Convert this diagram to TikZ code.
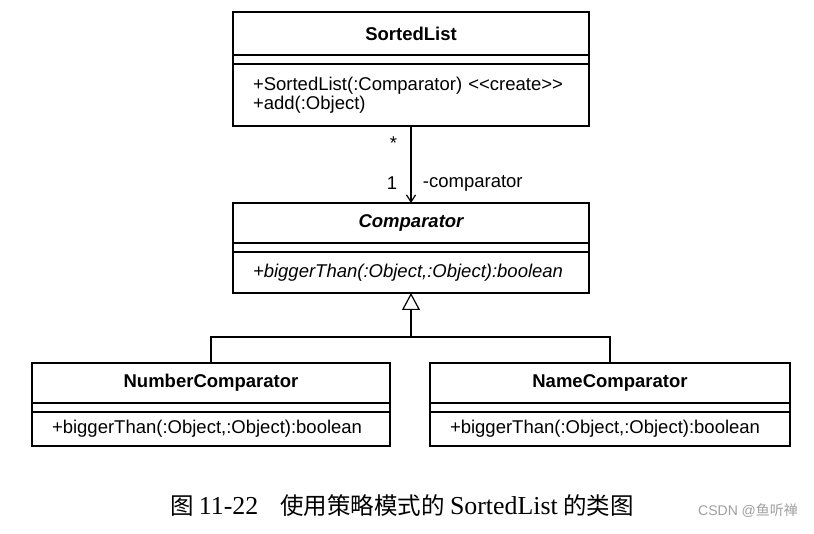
\documentclass[tikz,border=0pt]{standalone}
\usepackage{fontspec}
\setmainfont{Liberation Sans}
\newfontfamily\capserif[Scale=1.1]{Liberation Serif}
\newfontfamily\cjk{Noto Sans CJK SC}
\usetikzlibrary{arrows.meta,positioning}

\begin{document}
\begin{tikzpicture}[
    x=1pt, y=-1pt,
    clsname/.style={rectangle, draw=black, line width=1.2pt, outer sep=0pt, inner sep=0pt, minimum height=40pt, text centered, font=\fontsize{18.5}{21}\selectfont\bfseries},
    clsattr/.style={rectangle, draw=black, line width=1.2pt, outer sep=0pt, inner sep=0pt, minimum height=9pt},
    clsops/.style={rectangle, draw=black, line width=1.2pt, outer sep=0pt, inner xsep=20pt, inner ysep=0pt, align=left, font=\fontsize{18.5}{19}\selectfont},
    assoc/.style={-{Straight Barb[length=7pt, width=9pt]}, line width=1.2pt},
    gen/.style={-{Triangle[open, length=17pt, width=18pt, fill=white]}, line width=1.2pt},
    tree/.style={line width=1.2pt},
    lbl/.style={font=\fontsize{18.5}{21}\selectfont}
]
\path[use as bounding box, fill=white] (0,0) rectangle (814,534);

% SortedList
\node[clsname, minimum width=356pt, minimum height=43pt] (sortedName) at (411,33.5) {SortedList};
\node[clsattr, minimum width=356pt, below=0pt of sortedName] (sortedAttr) {};
\node[clsops, text width=316pt, minimum height=62pt, below=0pt of sortedAttr] (sortedOps) {+SortedList(:Comparator) <{}<create>{}>\\+add(:Object)};

% Comparator
\node[clsname, minimum width=356pt, font=\fontsize{18.5}{21}\selectfont\bfseries\itshape] (compName) at (411,223) {Comparator};
\node[clsattr, minimum width=356pt, below=0pt of compName] (compAttr) {};
\node[clsops, text width=316pt, minimum height=41pt, below=0pt of compAttr, font=\fontsize{18.5}{19}\selectfont\itshape] (compOps) {+biggerThan(:Object,:Object):boolean};

% subclasses
\node[clsname, minimum width=358pt] (numName) at (211,383) {NumberComparator};
\node[clsattr, minimum width=358pt, below=0pt of numName] (numAttr) {};
\node[clsops, text width=318pt, minimum height=34pt, below=0pt of numAttr] (numOps) {+biggerThan(:Object,:Object):boolean};

\node[clsname, minimum width=360pt] (nameName) at (610,383) {NameComparator};
\node[clsattr, minimum width=360pt, below=0pt of nameName] (nameAttr) {};
\node[clsops, text width=320pt, minimum height=34pt, below=0pt of nameAttr] (nameOps) {+biggerThan(:Object,:Object):boolean};

% connectors
\draw[assoc] (sortedOps) -- node[lbl, pos=0.22, left=10pt] {*}
                              node[lbl, pos=0.74, left=10pt] {1}
                              node[lbl, pos=0.74, right=8pt] {-comparator} (compName);
\coordinate (split) at (411,337);
\draw[gen] (split) -- (compOps);
\draw[tree] (numName) |- (split) -| (nameName);

% caption
\node[anchor=west, inner sep=0pt, font=\fontsize{23.5}{26}\selectfont] (caption) at (170,506) {\cjk 图 {\capserif 11-22}\hspace{22pt}使用策略模式的 {\capserif SortedList} 的类图};
\node[anchor=west, inner sep=0pt, text=gray!75, font=\fontsize{14}{16}\selectfont] (mark) at (698,511) {CSDN @{\cjk 鱼听禅}};
\end{tikzpicture}
\end{document}
